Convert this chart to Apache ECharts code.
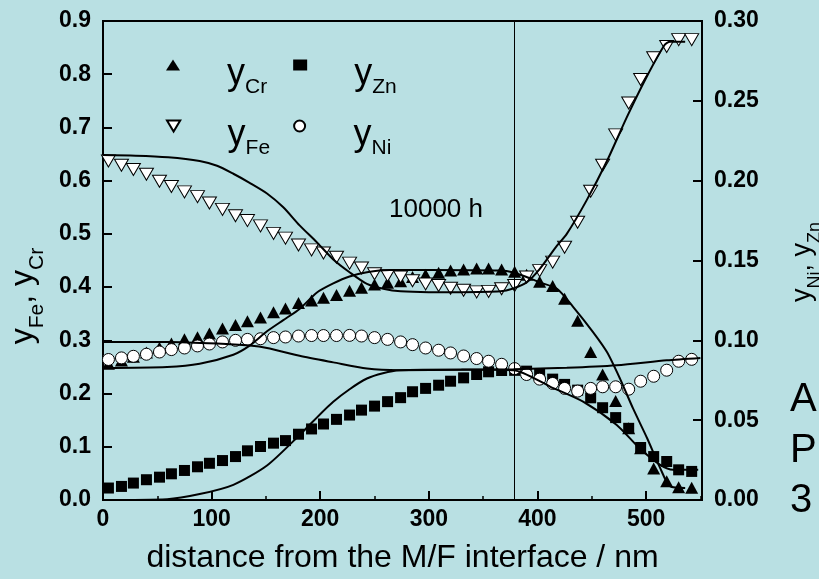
<!DOCTYPE html>
<html>
<head>
<meta charset="utf-8">
<script src="https://cdn.jsdelivr.net/npm/echarts@6/dist/echarts.min.js"></script>
<style>
  html, body { margin: 0; padding: 0; background: #b9e0e3; }
  #chart { width: 819px; height: 579px; }
</style>
</head>
<body>
<div id="chart"></div>
<script>
// measured points (distance / nm)
const depth = [5, 17, 28, 40, 52, 63, 75, 87, 98, 110, 122, 133, 145, 157, 168, 180,
  192, 203, 215, 227, 238, 250, 262, 274, 285, 297, 309, 320, 332, 344, 355, 367,
  379, 390, 402, 414, 425, 437, 449, 460, 472, 484, 495, 507, 519, 530, 542];

// left axis
const yCr = [0.256, 0.262, 0.269, 0.277, 0.286, 0.294, 0.302, 0.306, 0.313, 0.322, 0.329, 0.336,
  0.343, 0.353, 0.360, 0.370, 0.375, 0.380, 0.385, 0.393, 0.399, 0.405, 0.408, 0.411,
  0.419, 0.423, 0.427, 0.431, 0.433, 0.435, 0.435, 0.433, 0.429, 0.423, 0.410, 0.402,
  0.378, 0.337, 0.278, 0.236, 0.186, 0.135, 0.097, 0.059, 0.035, 0.024, 0.023];
const yFe = [0.637, 0.629, 0.621, 0.612, 0.599, 0.589, 0.579, 0.570, 0.558, 0.546, 0.534, 0.525,
  0.515, 0.501, 0.492, 0.479, 0.470, 0.464, 0.456, 0.445, 0.436, 0.425, 0.422, 0.419,
  0.412, 0.406, 0.403, 0.398, 0.394, 0.391, 0.392, 0.397, 0.403, 0.419, 0.431, 0.447,
  0.475, 0.522, 0.580, 0.629, 0.686, 0.746, 0.790, 0.831, 0.852, 0.865, 0.865];

// right axis
const yZn = [0.0075, 0.0085, 0.0106, 0.0127, 0.0143, 0.0164, 0.0185, 0.0208, 0.0230, 0.0247,
  0.0272, 0.0308, 0.0335, 0.0356, 0.0372, 0.0412, 0.0445, 0.0476, 0.0505, 0.0532, 0.0563,
  0.0588, 0.0616, 0.0641, 0.0678, 0.0699, 0.0719, 0.0744, 0.0765, 0.0786, 0.0803, 0.0811,
  0.0812, 0.0807, 0.0792, 0.0757, 0.0724, 0.0688, 0.0640, 0.0578, 0.0516, 0.0449, 0.0329,
  0.0272, 0.0241, 0.0189, 0.0179];
const yNi = [0.0880, 0.0890, 0.0900, 0.0913, 0.0927, 0.0942, 0.0952, 0.0965, 0.0977, 0.0990,
  0.1000, 0.1006, 0.1010, 0.1017, 0.1021, 0.1027, 0.1030, 0.1030, 0.1030, 0.1031, 0.1027,
  0.1017, 0.1006, 0.0990, 0.0973, 0.0952, 0.0938, 0.0921, 0.0902, 0.0886, 0.0869, 0.0850,
  0.0823, 0.0786, 0.0757, 0.0730, 0.0699, 0.0682, 0.0699, 0.0709, 0.0709, 0.0694, 0.0744,
  0.0775, 0.0813, 0.0869, 0.0881];

// calculated profiles
const fitFeX = [0, 30, 60, 89, 105, 120, 135, 151, 166, 181, 197, 212, 227, 243, 258, 274,
  300, 330, 366, 377, 390, 402, 418, 427, 445, 464, 482, 500, 517, 522, 536];
const fitFe = [0.648, 0.647, 0.644, 0.637, 0.628, 0.613, 0.596, 0.576, 0.550, 0.516, 0.484,
  0.452, 0.428, 0.406, 0.397, 0.392, 0.3905, 0.3905, 0.392, 0.397, 0.409, 0.434, 0.478,
  0.500, 0.562, 0.637, 0.718, 0.793, 0.855, 0.861, 0.861];
const fitCrX = [0, 59, 89, 120, 135, 151, 166, 181, 197, 212, 227, 243, 264, 300, 366, 377,
  390, 402, 418, 433, 451, 464, 476, 488, 501, 513, 522, 536];
const fitCr = [0.248, 0.250, 0.256, 0.273, 0.290, 0.317, 0.338, 0.359, 0.390, 0.407, 0.420,
  0.428, 0.432, 0.432, 0.431, 0.428, 0.419, 0.409, 0.397, 0.3625, 0.316, 0.278, 0.228,
  0.172, 0.116, 0.060, 0.026, 0.0225];
const fitZnX = [0, 59, 89, 120, 151, 181, 212, 243, 273, 330, 378, 412, 442, 473, 494, 513, 525, 548];
const fitZn = [0.0, 0.0005, 0.0037, 0.0095, 0.0216, 0.0407, 0.0616, 0.0761, 0.0813, 0.0818,
  0.0813, 0.0709, 0.0616, 0.0470, 0.0324, 0.0220, 0.0189, 0.0189];
const fitNiX = [0, 60, 105, 135, 151, 181, 212, 243, 273, 330, 378, 427, 473, 519, 550];
const fitNi = [0.099, 0.099, 0.098, 0.0967, 0.0952, 0.0903, 0.0862, 0.0823, 0.0813, 0.0815,
  0.0819, 0.0828, 0.0844, 0.0875, 0.089];

const markerX = 379;

const FONT = '"Liberation Sans", Arial, sans-serif';

function pairs(xs, ys) {
  return xs.map((x, i) => [x, ys[i]]);
}

const chart = echarts.init(document.getElementById('chart'));

// big "y" with a dropped subscript
const legendRich = {
  m: { fontSize: 36, fontFamily: FONT, color: '#000', lineHeight: 18, verticalAlign: 'top', padding: [0, 0, 0, 42] },
  s: { fontSize: 21, fontFamily: FONT, color: '#000', lineHeight: 10, verticalAlign: 'top', padding: [21, 0, 0, 0] }
};
const downTri = 'path://M0,0L12,0L6,10Z';

function fitLine(xs, ys, axis) {
  return {
    type: 'line',
    yAxisIndex: axis,
    data: pairs(xs, ys),
    showSymbol: false,
    smooth: 0.25,
    z: 5,
    lineStyle: { color: '#000', width: 2 },
    silent: true
  };
}

function axisTitle(x, y, text, big, small, drop) {
  return {
    type: 'text', x: x, y: y, rotation: Math.PI / 2,
    style: {
      text: text, align: 'center', verticalAlign: 'middle',
      rich: {
        m: { fontSize: big, fontFamily: FONT, fill: '#000', lineHeight: 22, verticalAlign: 'top' },
        s: { fontSize: small, fontFamily: FONT, fill: '#000', lineHeight: 10, verticalAlign: 'top', padding: [drop, 0, 0, 0] }
      }
    }
  };
}

const option = {
  animation: false,
  backgroundColor: '#b9e0e3',
  grid: {
    left: 103, right: 117, top: 21, bottom: 77,
    show: true, borderColor: '#000', borderWidth: 2, backgroundColor: 'transparent'
  },
  legend: [
    {
      data: ['Cr', 'Zn'], left: 161, top: 51, itemGap: 26, itemWidth: 14, itemHeight: 11,
      formatter: n => '{m|y}{s|' + n + '}', textStyle: { rich: legendRich }
    },
    {
      data: [{ name: 'Fe', icon: downTri }, 'Ni'], left: 161, top: 112, itemGap: 23, itemWidth: 14, itemHeight: 11,
      formatter: n => '{m|y}{s|' + n + '}', textStyle: { rich: legendRich }
    }
  ],
  xAxis: {
    type: 'value', min: 0, max: 551.5, interval: 100,
    name: 'distance from the M/F interface / nm',
    nameLocation: 'middle', nameGap: 42,
    nameTextStyle: { fontSize: 32, fontFamily: FONT, color: '#000' },
    axisLine: { lineStyle: { color: '#000', width: 2 } },
    axisTick: { inside: true, length: 9, lineStyle: { color: '#000', width: 2 } },
    minorTick: { show: true, splitNumber: 2, length: 4, lineStyle: { color: '#000', width: 1.5 } },
    axisLabel: { fontSize: 23, fontWeight: 'bold', fontFamily: FONT, color: '#000', margin: 8, showMaxLabel: false },
    splitLine: { show: false }
  },
  yAxis: [
    {
      type: 'value', min: 0, max: 0.9, interval: 0.1, position: 'left',
      axisLine: { show: true, lineStyle: { color: '#000', width: 2 } },
      axisTick: { show: true, inside: true, length: 9, lineStyle: { color: '#000', width: 2 } },
      axisLabel: { fontSize: 23, fontWeight: 'bold', fontFamily: FONT, color: '#000', margin: 12,
        formatter: v => v.toFixed(1) },
      splitLine: { show: false }
    },
    {
      type: 'value', min: 0, max: 0.3, interval: 0.05, position: 'right',
      axisLine: { show: true, lineStyle: { color: '#000', width: 2 } },
      axisTick: { show: true, inside: true, length: 9, lineStyle: { color: '#000', width: 2 } },
      axisLabel: { fontSize: 23, fontWeight: 'bold', fontFamily: FONT, color: '#000', margin: 12,
        formatter: v => v.toFixed(2) },
      splitLine: { show: false }
    }
  ],
  graphic: [
    axisTitle(18, 296, '{m|y}{s|Fe}{m|, y}{s|Cr}', 32, 21, 20),
    axisTitle(800, 262, '{m|y}{s|Ni}{m|, y}{s|Zn}', 27, 18, 17),
    {
      type: 'text', x: 389, y: 210,
      style: { text: '10000 h', fontSize: 26, fontFamily: FONT, fill: '#000', verticalAlign: 'middle' }
    },
    {
      type: 'text', x: 790, y: 400,
      style: { text: 'A', fontSize: 40, fontFamily: FONT, fill: '#000', verticalAlign: 'middle' }
    },
    {
      type: 'text', x: 790, y: 451,
      style: { text: 'P', fontSize: 40, fontFamily: FONT, fill: '#000', verticalAlign: 'middle' }
    },
    {
      type: 'text', x: 790, y: 501,
      style: { text: '3', fontSize: 40, fontFamily: FONT, fill: '#000', verticalAlign: 'middle' }
    }
  ],
  series: [
    {
      name: 'Cr', type: 'scatter', yAxisIndex: 0, data: pairs(depth, yCr),
      symbol: 'triangle', symbolSize: [13, 12], z: 3,
      itemStyle: { color: '#000', opacity: 1 }
    },
    {
      name: 'Zn', type: 'scatter', yAxisIndex: 1, data: pairs(depth, yZn),
      symbol: 'rect', symbolSize: 11, z: 3,
      itemStyle: { color: '#000', opacity: 1 }
    },
    {
      name: 'Fe', type: 'scatter', yAxisIndex: 0, data: pairs(depth, yFe),
      symbol: 'triangle', symbolRotate: 180, symbolSize: [14, 12], z: 3,
      itemStyle: { color: '#fff', borderColor: '#000', borderWidth: 1, opacity: 1 }
    },
    {
      name: 'Ni', type: 'scatter', yAxisIndex: 1, data: pairs(depth, yNi),
      symbol: 'circle', symbolSize: 12, z: 3,
      itemStyle: { color: '#fff', borderColor: '#000', borderWidth: 1, opacity: 1 }
    },
    Object.assign(fitLine(fitFeX, fitFe, 0), {
      markLine: {
        silent: true, symbol: ['none', 'none'], label: { show: false },
        lineStyle: { color: '#000', width: 1, type: 'solid' },
        data: [{ xAxis: markerX }]
      }
    }),
    fitLine(fitCrX, fitCr, 0),
    fitLine(fitZnX, fitZn, 1),
    fitLine(fitNiX, fitNi, 1)
  ]
};

chart.setOption(option);
</script>
</body>
</html>
